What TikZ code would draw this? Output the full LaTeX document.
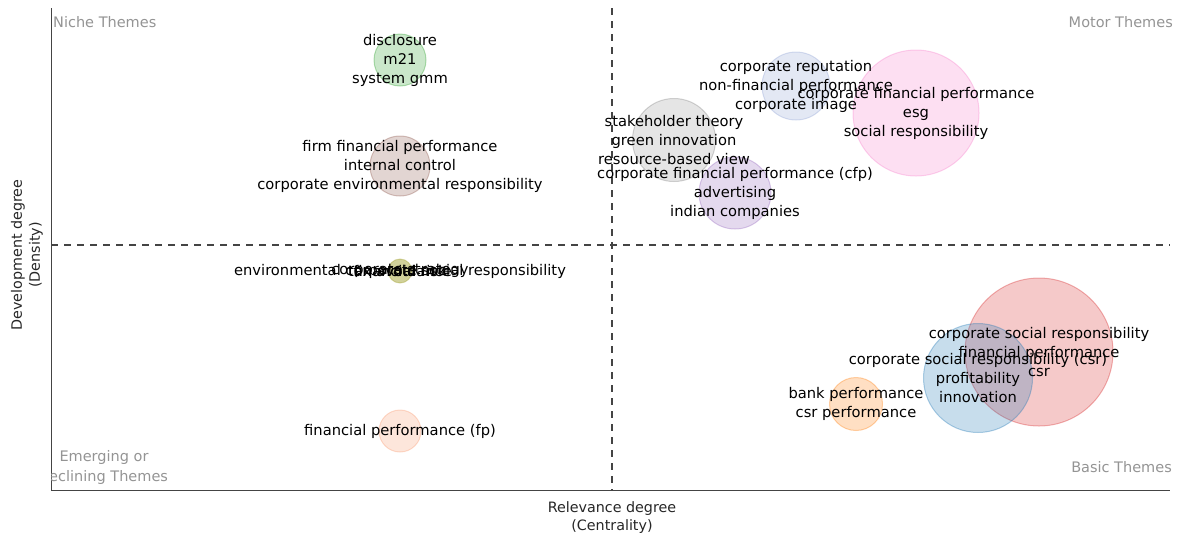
\documentclass[tikz,border=0pt]{standalone}
\usepackage{fontspec}
\setmainfont{DejaVu Sans}
\definecolor{cblue}{HTML}{1F77B4}
\definecolor{corange}{HTML}{FF7F0E}
\definecolor{cgreen}{HTML}{2CA02C}
\definecolor{cred}{HTML}{D62728}
\definecolor{cpurple}{HTML}{9467BD}
\definecolor{cbrown}{HTML}{8C564B}
\definecolor{cpink}{HTML}{F77FCB}
\definecolor{cgray}{HTML}{7F7F7F}
\definecolor{colive}{HTML}{9A9A20}
\definecolor{clavender}{HTML}{8FA2D4}
\definecolor{cpeach}{HTML}{F99A70}
\definecolor{axisgray}{HTML}{444444}
\begin{document}
\begin{tikzpicture}[x=1pt,y=-1pt,
    bubble/.style={circle,inner sep=0pt,fill=#1,fill opacity=0.25,draw=#1,draw opacity=0.35,line width=1pt},
    lbl/.style={font=\fontsize{14.7}{19}\selectfont,align=center,inner sep=0pt,text=black},
    corner/.style={font=\fontsize{14.5}{20}\selectfont,align=center,inner sep=0pt,text=black!42},
    axlbl/.style={font=\fontsize{14.3}{18}\selectfont,align=center,inner sep=0pt,text=black!85},
    quad/.style={draw=axisgray,line width=1.4pt,dash pattern=on 7pt off 6pt}]
  \useasboundingbox (0,0) rectangle (1182,539);

  % quadrant lines and axes
  \draw[quad] (612,8) -- (612,490);
  \draw[quad] (51,245) -- (1170,245);
  \draw[axisgray,line width=1pt] (51,8) -- (51,490) -- (1170,490);

  % bubbles
  \node[bubble=cgreen,minimum size=52pt] (disc) at (400,60) {};
  \node[bubble=cbrown,minimum size=60pt] (ffp) at (400,166) {};
  \node[bubble=colive,minimum size=24pt,fill opacity=0.45] (env) at (400,271) {};
  \node[bubble=cpeach,minimum size=42pt] (fp) at (400,431) {};
  \node[bubble=cgray,minimum size=83pt,fill opacity=0.2] (stake) at (674,140) {};
  \node[bubble=cpurple,minimum size=72pt] (cfp) at (735,193) {};
  \node[bubble=clavender,minimum size=68pt] (crep) at (796,86) {};
  \node[bubble=cpink,minimum size=126pt] (esg) at (916,113) {};
  \node[bubble=cred,minimum size=148pt] (csr) at (1039,352) {};
  \node[bubble=cblue,minimum size=109pt] (csrp) at (978,378) {};
  \node[bubble=corange,minimum size=53pt] (bank) at (856,404) {};

  % labels
  \node[lbl] (disctxt) at (disc) {disclosure\\m21\\system gmm};
  \node[lbl] (ffptxt) at (ffp) {firm financial performance\\internal control\\corporate environmental responsibility};
  \node[lbl] (envtxt) at (env) {environmental corporate social responsibility};
  \node[lbl] (envtxtb) at (env) {corporate strategy};
  \node[lbl] (envtxtc) at (env) {financial risk};
  \node[lbl] (envtxtd) at (env) {tax avoidance};
  \node[lbl] (fptxt) at (fp) {financial performance (fp)};
  \node[lbl] (staketxt) at (stake) {stakeholder theory\\green innovation\\resource-based view};
  \node[lbl] (cfptxt) at (cfp) {corporate financial performance (cfp)\\advertising\\indian companies};
  \node[lbl] (creptxt) at (crep) {corporate reputation\\non-financial performance\\corporate image};
  \node[lbl] (esgtxt) at (esg) {corporate financial performance\\esg\\social responsibility};
  \node[lbl] (csrtxt) at (csr) {corporate social responsibility\\financial performance\\csr};
  \node[lbl] (csrptxt) at (csrp) {corporate social responsibility (csr)\\profitability\\innovation};
  \node[lbl] (banktxt) at (bank) {bank performance\\csr performance};

  % quadrant names
  \node[corner,anchor=west] (niche) at (53,22) {Niche Themes};
  \node[corner,anchor=east] (motor) at (1173,22) {Motor Themes};
  \node[corner,anchor=east] (basic) at (1172,467) {Basic Themes};
  \begin{scope}
    \clip (51,440) rectangle (300,490);
    \node[corner] (emerg) at (104,467) {Emerging or\\declining Themes};
  \end{scope}

  % axis titles
  \node[axlbl] (xlab) at (612,518) {Relevance degree\\(Centrality)};
  \node[axlbl,rotate=90] (ylab) at (27,255) {Development degree\\(Density)};
\end{tikzpicture}
\end{document}
